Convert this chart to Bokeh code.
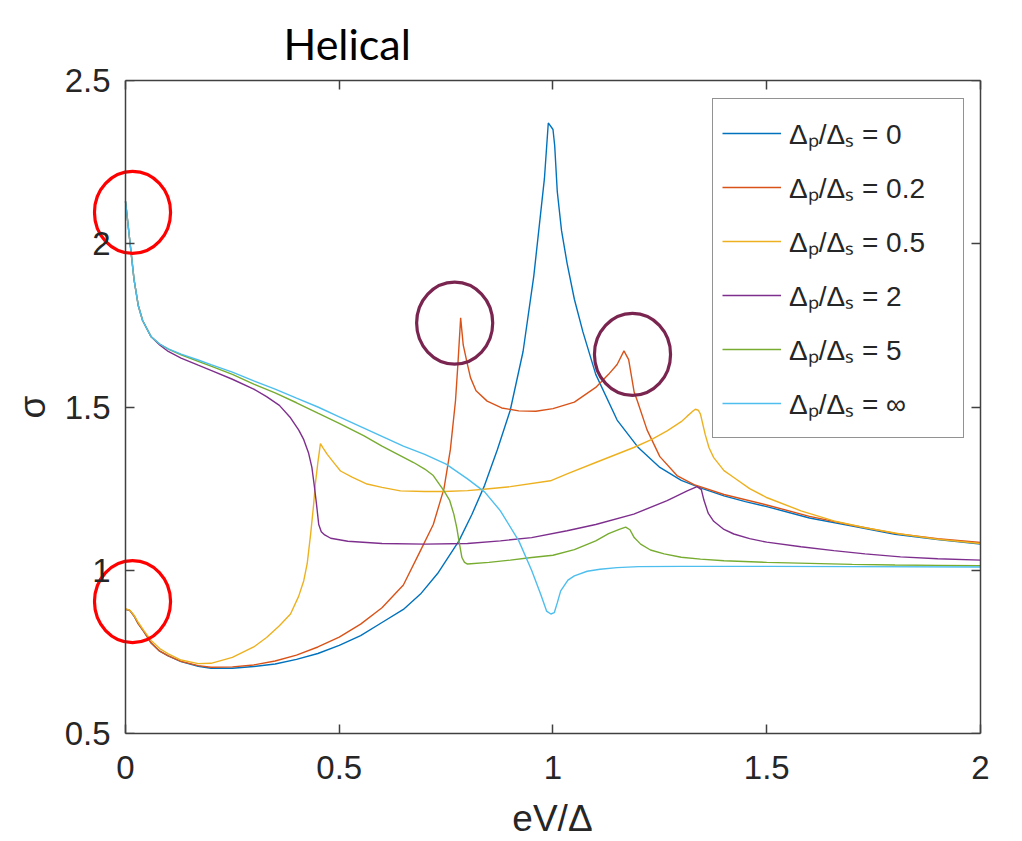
import numpy as np
from bokeh.plotting import figure
from bokeh.models import (Range1d, LinearAxis, FixedTicker, Legend, LegendItem,
                          CustomJSTickFormatter)
from bokeh.embed import file_html
from bokeh.resources import INLINE

# ---------------- data ----------------
x_ticks = [0, 0.5, 1, 1.5, 2]
x_tick_labels = ["0", "0.5", "1", "1.5", "2"]
y_ticks = [0.5, 1, 1.5, 2, 2.5]
y_tick_labels = ["0.5", "1", "1.5", "2", "2.5"]

series_labels = ["Δₚ/Δₛ = 0", "Δₚ/Δₛ = 0.2", "Δₚ/Δₛ = 0.5",
                 "Δₚ/Δₛ = 2", "Δₚ/Δₛ = 5", "Δₚ/Δₛ = ∞"]
series_colors = ["#0072BD", "#D95319", "#EDB120", "#7E2F8E", "#77AC30", "#4DBEEE"]

# Δp/Δs = 0
x_r0 = [0, 0.01, 0.02, 0.03, 0.043, 0.06, 0.08, 0.1, 0.13, 0.17, 0.2, 0.25, 0.3, 0.35,
        0.4, 0.45, 0.5, 0.55, 0.6, 0.65, 0.69, 0.73, 0.78, 0.81, 0.84, 0.87, 0.9, 0.93,
        0.955, 0.97, 0.98, 0.989, 1.0, 1.004, 1.01, 1.02, 1.033, 1.05, 1.07, 1.1, 1.15,
        1.2, 1.25, 1.3, 1.35, 1.4, 1.45, 1.5, 1.6, 1.7, 1.8, 1.9, 2.0]
y_r0 = [0.88, 0.877, 0.86, 0.836, 0.812, 0.777, 0.752, 0.738, 0.72, 0.706, 0.70, 0.70,
        0.705, 0.713, 0.727, 0.745, 0.77, 0.80, 0.84, 0.88, 0.927, 0.99, 1.09, 1.17,
        1.26, 1.37, 1.49, 1.67, 1.9, 2.08, 2.2, 2.37, 2.35, 2.3, 2.16, 2.04, 1.94, 1.83,
        1.73, 1.60, 1.46, 1.375, 1.315, 1.275, 1.25, 1.228, 1.21, 1.195, 1.16, 1.135,
        1.11, 1.094, 1.08]

# Δp/Δs = 0.2
x_r02 = [0, 0.01, 0.02, 0.03, 0.043, 0.06, 0.08, 0.1, 0.13, 0.17, 0.2, 0.25, 0.3, 0.35,
         0.4, 0.45, 0.5, 0.55, 0.6, 0.65, 0.69, 0.72, 0.745, 0.76, 0.772, 0.778, 0.784,
         0.79, 0.8, 0.807, 0.82, 0.846, 0.88, 0.92, 0.96, 1.0, 1.05, 1.1, 1.13, 1.15,
         1.166, 1.177, 1.19, 1.197, 1.22, 1.25, 1.29, 1.33, 1.4, 1.5, 1.6, 1.7, 1.8,
         1.9, 2.0]
y_r02 = [0.88, 0.877, 0.86, 0.836, 0.812, 0.777, 0.752, 0.738, 0.721, 0.708, 0.703,
         0.704, 0.71, 0.722, 0.74, 0.765, 0.795, 0.835, 0.885, 0.955, 1.06, 1.14, 1.25,
         1.37, 1.52, 1.64, 1.773, 1.69, 1.63, 1.59, 1.55, 1.518, 1.497, 1.488, 1.487,
         1.495, 1.515, 1.56, 1.6, 1.63, 1.672, 1.645, 1.545, 1.52, 1.43, 1.348, 1.29,
         1.262, 1.232, 1.2, 1.165, 1.138, 1.113, 1.097, 1.085]

# Δp/Δs = 0.5
x_r05 = [0, 0.01, 0.02, 0.03, 0.043, 0.06, 0.08, 0.1, 0.13, 0.17, 0.2, 0.25, 0.3, 0.33,
         0.36, 0.386, 0.405, 0.417, 0.425, 0.433, 0.44, 0.444, 0.45, 0.456, 0.462, 0.472,
         0.49, 0.503, 0.53, 0.565, 0.6, 0.643, 0.7, 0.745, 0.8, 0.838, 0.9, 0.994, 1.033,
         1.1, 1.189, 1.23, 1.267, 1.3, 1.314, 1.325, 1.333, 1.34, 1.345, 1.35, 1.356,
         1.365, 1.376, 1.4, 1.423, 1.46, 1.501, 1.58, 1.657, 1.73, 1.813, 1.9, 2.0]
y_r05 = [0.882, 0.878, 0.862, 0.84, 0.815, 0.785, 0.76, 0.744, 0.725, 0.714, 0.715,
         0.733, 0.765, 0.794, 0.83, 0.866, 0.92, 0.968, 1.02, 1.11, 1.2, 1.264, 1.33,
         1.388, 1.375, 1.355, 1.325, 1.304, 1.285, 1.264, 1.254, 1.243, 1.241, 1.241,
         1.244, 1.248, 1.256, 1.274, 1.295, 1.33, 1.376, 1.4, 1.427, 1.455, 1.472, 1.485,
         1.493, 1.49, 1.478, 1.45, 1.416, 1.375, 1.345, 1.305, 1.284, 1.25, 1.222, 1.182,
         1.151, 1.13, 1.111, 1.095, 1.082]

# Δp/Δs = 2
x_r2 = [0, 0.005, 0.01, 0.02, 0.03, 0.04, 0.06, 0.08, 0.1, 0.13, 0.17, 0.2, 0.25, 0.3,
        0.33, 0.36, 0.386, 0.405, 0.417, 0.428, 0.436, 0.442, 0.447, 0.452, 0.458, 0.466,
        0.48, 0.52, 0.6, 0.7, 0.8, 0.877, 0.95, 1.033, 1.1, 1.189, 1.267, 1.314, 1.337,
        1.347, 1.353, 1.363, 1.376, 1.4, 1.423, 1.46, 1.5, 1.58, 1.657, 1.73, 1.813, 1.9,
        2.0]
y_r2 = [2.13, 2.07, 2.01, 1.89, 1.81, 1.765, 1.715, 1.69, 1.67, 1.65, 1.628, 1.612,
        1.585, 1.555, 1.532, 1.505, 1.467, 1.43, 1.40, 1.36, 1.315, 1.255, 1.2, 1.14,
        1.118, 1.108, 1.098, 1.089, 1.082, 1.080, 1.082, 1.09, 1.10, 1.121, 1.14, 1.172,
        1.213, 1.243, 1.256, 1.247, 1.215, 1.175, 1.15, 1.125, 1.111, 1.097, 1.086,
        1.072, 1.060, 1.05, 1.041, 1.035, 1.031]

# Δp/Δs = 5
x_r5 = [0, 0.005, 0.01, 0.02, 0.03, 0.04, 0.06, 0.08, 0.1, 0.13, 0.17, 0.2, 0.25, 0.3,
        0.35, 0.4, 0.45, 0.5, 0.557, 0.6, 0.674, 0.7, 0.72, 0.745, 0.758, 0.768, 0.775,
        0.78, 0.787, 0.793, 0.8, 0.85, 0.9, 0.95, 1.0, 1.05, 1.1, 1.13, 1.155, 1.17, 1.18,
        1.19, 1.205, 1.228, 1.26, 1.3, 1.345, 1.4, 1.5, 1.6, 1.7, 1.8, 1.9, 2.0]
y_r5 = [2.13, 2.07, 2.01, 1.89, 1.81, 1.765, 1.715, 1.693, 1.677, 1.66, 1.64, 1.625,
        1.6, 1.57, 1.543, 1.513, 1.481, 1.45, 1.412, 1.38, 1.33, 1.31, 1.29, 1.243,
        1.215, 1.172, 1.13, 1.09, 1.039, 1.024, 1.019, 1.024, 1.031, 1.039, 1.046, 1.063,
        1.09, 1.112, 1.125, 1.132, 1.124, 1.1, 1.08, 1.062, 1.05, 1.04, 1.034, 1.029,
        1.024, 1.021, 1.018, 1.016, 1.015, 1.014]

# Δp/Δs = ∞
x_rinf = [0, 0.005, 0.01, 0.02, 0.03, 0.04, 0.06, 0.08, 0.1, 0.13, 0.17, 0.2, 0.25, 0.3,
          0.35, 0.4, 0.45, 0.5, 0.55, 0.6, 0.65, 0.7, 0.75, 0.8, 0.84, 0.877, 0.92, 0.95,
          0.971, 0.985, 0.995, 1.003, 1.01, 1.018, 1.035, 1.05, 1.08, 1.11, 1.15, 1.2,
          1.3, 1.5, 1.7, 2.0]
y_rinf = [2.13, 2.07, 2.01, 1.89, 1.81, 1.765, 1.715, 1.693, 1.678, 1.662, 1.644, 1.63,
          1.607, 1.58, 1.555, 1.527, 1.5, 1.47, 1.44, 1.41, 1.38, 1.355, 1.325, 1.28,
          1.24, 1.182, 1.09, 1.0, 0.927, 0.875, 0.866, 0.87, 0.9, 0.937, 0.97, 0.983,
          0.997, 1.003, 1.008, 1.011, 1.012, 1.012, 1.011, 1.01]

series_x = [x_r0, x_r02, x_r05, x_r2, x_r5, x_rinf]
series_y = [y_r0, y_r02, y_r05, y_r2, y_r5, y_rinf]

# highlighted regions (ellipse centres, data units)
mark_x = [0.0164, 0.0164, 0.770, 1.186]
mark_y = [2.096, 0.904, 1.757, 1.661]
mark_colors = ["#FF0000", "#FF0000", "#7A2550", "#7A2550"]

# ---------------- figure ----------------
AX = "#404040"
TXT = "#262626"
FONT = "Liberation Sans"
X0, X1 = x_ticks[0], x_ticks[-1]
Y0, Y1 = y_ticks[0], y_ticks[-1]

# The frame is a little wider than [0, 2] on both sides (symmetric, so the x label
# stays centred) so that the left highlight circles are not cut; the visible
# axes are bounded to [0, 2].
p = figure(width=1022, height=841, output_backend="svg", toolbar_location=None,
           x_range=Range1d(-0.0772, 2.0749), y_range=Range1d(Y0, Y1),
           min_border_left=92, min_border_right=10, min_border_top=80,
           min_border_bottom=108, background_fill_color="white",
           border_fill_color="white", outline_line_color=None,
           title="Helical")
p.grid.visible = False
p.title.align = "left"
p.title.offset = 191
p.title.standoff = 24
p.title.text_font = "Lato"
p.title.text_font_style = "normal"
p.title.text_font_size = "43px"
p.title.text_color = "black"

def style_axis(ax):
    ax.axis_line_color = AX
    ax.axis_line_width = 1.5
    ax.major_tick_line_color = AX
    ax.major_tick_line_width = 1.5
    ax.major_tick_in = 9
    ax.major_tick_out = 0
    ax.minor_tick_line_color = None
    ax.major_label_text_font = FONT
    ax.major_label_text_font_size = "33px"
    ax.major_label_text_color = TXT
    ax.axis_label_text_font = FONT
    ax.axis_label_text_font_size = "37px"
    ax.axis_label_text_font_style = "normal"
    ax.axis_label_text_color = TXT

blank = CustomJSTickFormatter(code="return ''")

# bottom axis (side panel)
p.xaxis.ticker = FixedTicker(ticks=x_ticks)
p.xaxis.major_label_overrides = {t: l for t, l in zip(x_ticks, x_tick_labels)}
p.xaxis.axis_label = "eV/Δ"
p.xaxis.bounds = (X0, X1)
style_axis(p.xaxis[0])
p.xaxis.major_label_standoff = 22
p.xaxis.axis_label_standoff = 16

# left side-panel axis: only the tick labels and the axis label
yl = p.yaxis[0]
yl.ticker = FixedTicker(ticks=y_ticks)
yl.major_label_overrides = {t: l for t, l in zip(y_ticks, y_tick_labels)}
yl.axis_label = "σ"
style_axis(yl)
yl.axis_line_color = None
yl.major_tick_line_color = None
yl.major_label_standoff = -18
yl.axis_label_standoff = 9

# axis line + ticks at x = 0, at x = 2 and along the top
yline = LinearAxis(ticker=FixedTicker(ticks=y_ticks), formatter=blank,
                   fixed_location=X0, bounds=(Y0, Y1))
right = LinearAxis(ticker=FixedTicker(ticks=y_ticks), formatter=blank,
                   fixed_location=X1, bounds=(Y0, Y1))
top = LinearAxis(ticker=FixedTicker(ticks=x_ticks), formatter=blank, bounds=(X0, X1))
for ax in (yline, right, top):
    style_axis(ax)
p.add_layout(yline, "left")
p.add_layout(right, "right")
p.add_layout(top, "above")

items = []
for xs, ys, col, lab in zip(series_x, series_y, series_colors, series_labels):
    r = p.line(xs, ys, line_color=col, line_width=1.4)
    items.append(LegendItem(label=lab, renderers=[r]))

# highlight circles
p.ellipse(x=mark_x, y=mark_y, width=0.178, height=0.251, fill_color=None,
          line_color=mark_colors, line_width=3.2)

legend = Legend(items=items, location=(620, 295), glyph_width=59, glyph_height=50,
                label_height=50, spacing=4, padding=9, label_standoff=8,
                label_width=165, label_text_font=FONT, label_text_font_size="28px",
                label_text_color=TXT, border_line_color=TXT, border_line_width=1,
                background_fill_color="white", background_fill_alpha=1.0, margin=0)
p.add_layout(legend, "center")

open("out.html", "w").write(file_html(p, INLINE))
